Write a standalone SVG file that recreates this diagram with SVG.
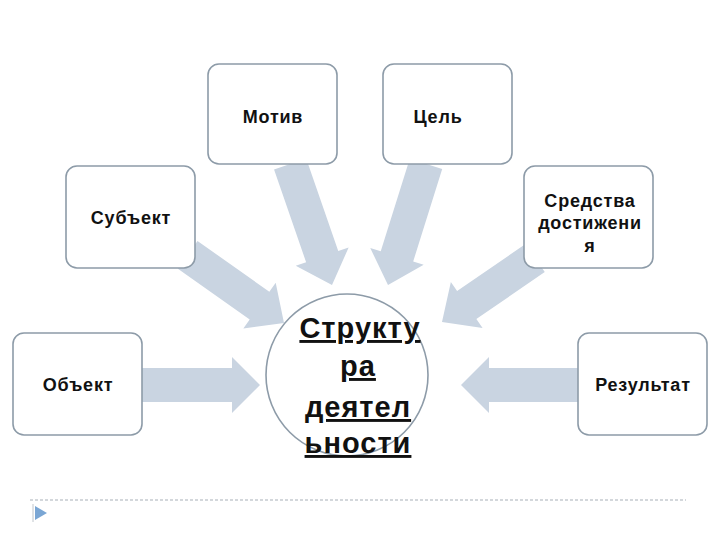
<svg xmlns="http://www.w3.org/2000/svg" width="720" height="540" viewBox="0 0 720 540">
<style>
.box{fill:#ffffff;stroke:#8d9ba8;stroke-width:1.6}
.arr{fill:#c9d4e1}
.t{font-family:"Liberation Sans",Arial,sans-serif;font-size:18px;font-weight:bold;fill:#111;text-anchor:middle;letter-spacing:0.8px}
.c{font-family:"Liberation Sans",Arial,sans-serif;font-size:29px;font-weight:bold;fill:#111;text-anchor:middle;text-decoration:underline;letter-spacing:1px}
</style>
<rect width="720" height="540" fill="#ffffff"/>
<g id="connectors">
<polygon class="arr" transform="translate(260,385)" points="-118,-17 -28,-17 -28,-28 0,0 -28,28 -28,17 -118,17"/>
<polygon class="arr" transform="translate(461,385) rotate(180)" points="-117,-17 -28,-17 -28,-28 0,0 -28,28 -28,17 -117,17"/>
<polygon class="arr" transform="translate(332,285) rotate(70.9)" points="-128,-17 -30,-17 -30,-28 0,0 -30,28 -30,17 -128,17"/>
<polygon class="arr" transform="translate(388,285) rotate(107.4)" points="-127,-17 -30,-17 -30,-28 0,0 -30,28 -30,17 -127,17"/>
<polygon class="arr" transform="translate(284,323) rotate(35.3)" points="-118,-17 -30,-17 -30,-28 0,0 -30,28 -30,17 -118,17"/>
<polygon class="arr" transform="translate(442,322) rotate(145.5)" points="-113,-17 -30,-17 -30,-28 0,0 -30,28 -30,17 -113,17"/>
</g>
<g id="motiv"><rect class="box" x="208" y="64" width="129" height="100" rx="11"/><text class="t" x="273" y="123">Мотив</text></g>
<g id="cel"><rect class="box" x="383" y="64" width="129" height="100" rx="11"/><text class="t" x="438" y="123">Цель</text></g>
<g id="subjekt"><rect class="box" x="66" y="166" width="129" height="102" rx="11"/><text class="t" x="131" y="224">Субъект</text></g>
<g id="sredstva"><rect class="box" x="524" y="166" width="129" height="102" rx="11"/><text class="t" x="590" y="207">Средства</text><text class="t" x="590" y="229">достижени</text><text class="t" x="590" y="252">я</text></g>
<g id="objekt"><rect class="box" x="13" y="333" width="129" height="102" rx="11"/><text class="t" x="78" y="391">Объект</text></g>
<g id="rezultat"><rect class="box" x="578" y="333" width="129" height="102" rx="11"/><text class="t" x="643" y="391">Результат</text></g>
<g id="struktura"><circle class="box" cx="347" cy="375" r="81"/><text class="c" x="360" y="338">Структу</text><text class="c" x="358" y="376">ра</text><text class="c" x="358" y="417">деятел</text><text class="c" x="358" y="453">ьности</text></g>
<g id="footer">
<line x1="30" y1="500" x2="686" y2="500" stroke="#a8b0b8" stroke-width="1.2" stroke-dasharray="3,2"/>
<line x1="33" y1="504" x2="33" y2="522" stroke="#c0c6cc" stroke-width="1"/>
<polygon points="35,506 47,513 35,520" fill="#7aa6d4"/>
</g>
</svg>
